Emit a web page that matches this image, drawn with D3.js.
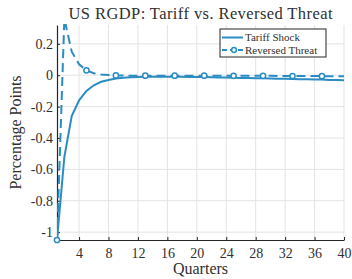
<!DOCTYPE html>
<html>
<head>
<meta charset="utf-8">
<script src="https://cdn.jsdelivr.net/npm/d3@7"></script>
<style>
  body { margin: 0; background: #fff; }
  svg { display: block; font-family: "Liberation Serif", "DejaVu Serif", serif; }
</style>
</head>
<body>
<svg id="chart" width="352" height="279"></svg>
<script>
// quarters 1..40
const quarters = d3.range(1, 41);
const tariffShock = [
  -1.05, -0.52, -0.26, -0.16, -0.10, -0.064, -0.042, -0.03, -0.021, -0.016,
  -0.013, -0.011, -0.01, -0.01, -0.01, -0.01, -0.01, -0.01, -0.011, -0.011,
  -0.012, -0.013, -0.014, -0.015, -0.016, -0.017, -0.018, -0.019, -0.02, -0.021,
  -0.022, -0.023, -0.024, -0.025, -0.026, -0.027, -0.028, -0.03, -0.031, -0.032
];
const reversedThreat = [
  -1.05, 0.36, 0.15, 0.07, 0.031, 0.013, 0.005, 0.001, -0.001, -0.002,
  -0.003, -0.003, -0.003, -0.003, -0.003, -0.003, -0.003, -0.003, -0.003, -0.003,
  -0.003, -0.003, -0.003, -0.004, -0.004, -0.004, -0.004, -0.004, -0.004, -0.004,
  -0.005, -0.005, -0.005, -0.005, -0.005, -0.005, -0.006, -0.006, -0.006, -0.006
];
const xTicks = [4, 8, 12, 16, 20, 24, 28, 32, 36, 40];
const yTicks = [0.2, 0, -0.2, -0.4, -0.6, -0.8, -1];
const seriesNames = ['Tariff Shock', 'Reversed Threat'];

const svg = d3.select('#chart');
const margin = { top: 25, right: 8, bottom: 39, left: 57 };
const W = 352, H = 279;
const innerW = W - margin.left - margin.right;
const innerH = H - margin.top - margin.bottom;
const color = '#2b8cc4';
const axisColor = '#262626';
const textColor = '#303030';

const x = d3.scaleLinear().domain([1, 40]).range([0, innerW]);
const y = d3.scaleLinear().domain([-1.05, 0.32]).range([innerH, 0]);

const g = svg.append('g').attr('transform', `translate(${margin.left},${margin.top})`);

// Grid
g.selectAll('.xgrid').data(xTicks).enter().append('line')
  .attr('x1', d => x(d)).attr('x2', d => x(d))
  .attr('y1', 0).attr('y2', innerH)
  .style('stroke', '#e3e3e3').style('stroke-width', 1);
g.selectAll('.ygrid').data(yTicks).enter().append('line')
  .attr('x1', 0).attr('x2', innerW)
  .attr('y1', d => y(d)).attr('y2', d => y(d))
  .style('stroke', '#e3e3e3').style('stroke-width', 1);

// Axes (ticks inside, like MATLAB)
const xAxis = g.append('g').attr('transform', `translate(0,${innerH})`)
  .call(d3.axisBottom(x).tickValues(xTicks).tickSizeInner(-3).tickSizeOuter(0).tickPadding(8));
const yAxis = g.append('g')
  .call(d3.axisLeft(y).tickValues(yTicks).tickSizeInner(-3).tickSizeOuter(0).tickPadding(4)
    .tickFormat(d => d3.format('')(d).replace('−', '-')));
[xAxis, yAxis].forEach(a => {
  a.attr('font-family', '"Liberation Serif", serif');
  a.select('.domain').style('stroke', axisColor).style('stroke-width', 1.2);
  a.selectAll('.tick line').style('stroke', axisColor);
  a.selectAll('text').style('font-size', '14px').style('fill', textColor);
});

// Clip
svg.append('defs').append('clipPath').attr('id', 'clip')
  .append('rect').attr('width', innerW).attr('height', innerH + 4).attr('y', -1);

const line = d3.line().x((d, i) => x(quarters[i])).y(d => y(d));
const plot = g.append('g').attr('clip-path', 'url(#clip)');

plot.append('path').datum(tariffShock)
  .attr('d', line)
  .style('fill', 'none').style('stroke', color).style('stroke-width', 2);

plot.append('path').datum(reversedThreat)
  .attr('d', line)
  .style('fill', 'none').style('stroke', color).style('stroke-width', 2)
  .style('stroke-dasharray', '9,5');

const markerIdx = quarters.map((q, i) => i).filter(i => (quarters[i] - 1) % 4 === 0);
g.selectAll('.marker').data(markerIdx).enter().append('circle')
  .attr('cx', i => x(quarters[i])).attr('cy', i => y(reversedThreat[i]))
  .attr('r', 2.6)
  .style('fill', '#fff').style('stroke', color).style('stroke-width', 1.5);

// Legend
const lg = svg.append('g').attr('transform', 'translate(220,29)');
lg.append('rect').attr('width', 106).attr('height', 28)
  .style('fill', '#fff').style('stroke', axisColor).style('stroke-width', 1);
seriesNames.forEach((name, i) => {
  const yy = 8.5 + i * 12.5;
  lg.append('line').attr('x1', 2).attr('x2', 23).attr('y1', yy).attr('y2', yy)
    .style('stroke', color).style('stroke-width', 2)
    .style('stroke-dasharray', i === 1 ? '5,3' : null);
  if (i === 1) {
    lg.append('circle').attr('cx', 14).attr('cy', yy).attr('r', 2.4)
      .style('fill', '#fff').style('stroke', color).style('stroke-width', 1.5);
  }
  lg.append('text').attr('x', 25).attr('y', yy + 3.8).text(name)
    .style('font-size', '11px').style('fill', textColor);
});

// Title and labels
svg.append('text').attr('x', margin.left + innerW / 2).attr('y', 19)
  .attr('text-anchor', 'middle').text('US RGDP: Tariff vs. Reversed Threat')
  .attr('textLength', 264).attr('lengthAdjust', 'spacing')
  .style('font-size', '16.5px').style('fill', textColor);
svg.append('text').attr('x', margin.left + innerW / 2).attr('y', 274)
  .attr('text-anchor', 'middle').text('Quarters')
  .style('font-size', '16px').style('fill', textColor);
svg.append('text')
  .attr('transform', `translate(21,${margin.top + innerH / 2}) rotate(-90)`)
  .attr('text-anchor', 'middle').text('Percentage Points')
  .style('font-size', '16px').style('fill', textColor);
</script>
</body>
</html>
